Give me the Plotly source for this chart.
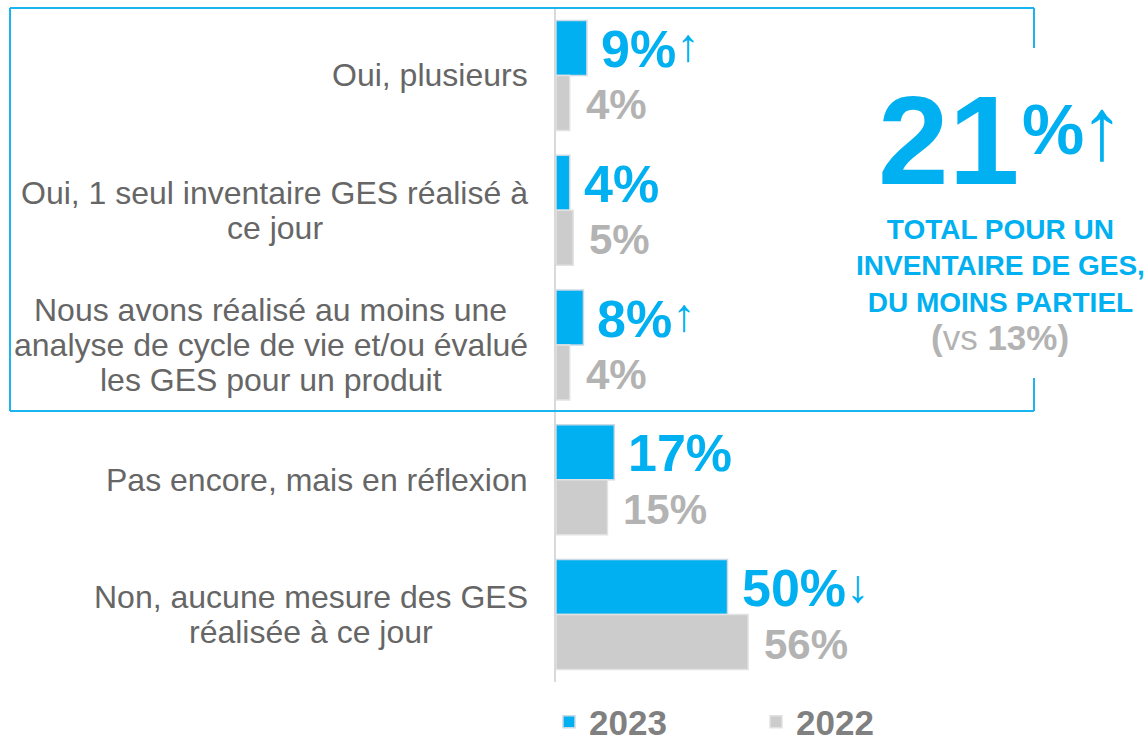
import plotly.graph_objects as go

# ---------------- data ----------------
categories = [
    "Oui, plusieurs",
    "Oui, 1 seul inventaire GES réalisé à<br>ce jour",
    "Nous avons réalisé au moins une<br>analyse de cycle de vie et/ou évalué<br>les GES pour un produit",
    "Pas encore, mais en réflexion",
    "Non, aucune mesure des GES<br>réalisée à ce jour",
]
series_names = ["2023", "2022"]
values_2023 = [9, 4, 8, 17, 50]
values_2022 = [4, 5, 4, 15, 56]
trend_2023 = ["↑", "", "↑", "", "↓"]
total_value = "21"
total_trend = "↑"
total_lines = ["TOTAL POUR UN", "INVENTAIRE DE GES,", "DU MOINS PARTIEL"]
total_previous = "13%"

# ---------------- style ----------------
BLUE = "#00B0F0"
GREY_BAR = "#CCCCCC"
GREY_TXT = "#B3B3B3"
LABEL_TXT = "#666666"
LEGEND_TXT = "#808080"
FONT = "Liberation Sans, Arial, sans-serif"
LABEL_SIZE = 32

WIDTH, HEIGHT = 1146, 741
L, T = 556, 8
PW, PH = 590, 674
R = WIDTH - L - PW
B = HEIGHT - T - PH
XMAX = PW / 3.43

# Arial / Liberation Sans regular advance widths (1/1000 em), used only to
# centre the lines of a wrapped label inside its right-aligned block
_W = {" ": 278, ",": 278, "/": 278, "1": 556,
      "a": 556, "b": 556, "c": 500, "d": 556, "e": 556, "f": 278, "g": 556, "h": 556,
      "i": 222, "j": 222, "k": 500, "l": 222, "m": 833, "n": 556, "o": 556, "p": 556,
      "q": 556, "r": 333, "s": 500, "t": 278, "u": 556, "v": 500, "w": 722, "x": 500,
      "y": 500, "z": 500, "é": 556, "è": 556, "à": 556,
      "A": 667, "B": 667, "C": 722, "D": 722, "E": 667, "F": 611, "G": 778, "H": 722,
      "I": 278, "J": 500, "K": 667, "L": 556, "M": 833, "N": 722, "O": 778, "P": 667,
      "Q": 778, "R": 722, "S": 667, "T": 611, "U": 722, "V": 667, "W": 944, "X": 667,
      "Y": 667, "Z": 611}


def text_width(s, size):
    return sum(_W.get(ch, 556) for ch in s) * size / 1000.0


def px_x(p):
    return (p - L) / PW


def px_y(p):
    return (T + PH - p) / PH


fig = go.Figure()
fig.add_trace(go.Bar(
    name=series_names[0], y=categories, x=values_2023, orientation="h",
    marker=dict(color=BLUE, line=dict(color="#C9D9E6", width=1.5)),
    hoverinfo="x+y",
))
fig.add_trace(go.Bar(
    name=series_names[1], y=categories, x=values_2022, orientation="h",
    marker=dict(color=GREY_BAR, line=dict(color="#E2E2E2", width=1.5)),
    hoverinfo="x+y",
))

annotations = []
LINE_H = 35
LABEL_RIGHT = 528
for cat in categories:
    lines = cat.split("<br>")
    n = len(lines)
    block_w = max(text_width(s, LABEL_SIZE) for s in lines)
    centre = LABEL_RIGHT - block_w / 2
    for j, line in enumerate(lines):
        annotations.append(dict(
            xref="paper", yref="y", x=px_x(centre), y=cat, xanchor="center", yanchor="middle",
            yshift=((n - 1) / 2 - j) * LINE_H, text=line, showarrow=False,
            font=dict(family=FONT, size=LABEL_SIZE, color=LABEL_TXT),
        ))

BAR_OFF = 27.5
for cat, v, tr in zip(categories, values_2023, trend_2023):
    txt = f"<b>{v}%</b>"
    if tr:
        shift = 6 if tr == "↑" else 4
        txt += f"<span style='font-size:46px;baseline-shift:{shift}px'>{tr}</span>"
    annotations.append(dict(
        xref="x", yref="y", x=v, y=cat, xanchor="left", yanchor="middle",
        xshift=12, yshift=BAR_OFF - 1, text=txt, showarrow=False,
        font=dict(family=FONT, size=52, color=BLUE),
    ))
for cat, v in zip(categories, values_2022):
    annotations.append(dict(
        xref="x", yref="y", x=v, y=cat, xanchor="left", yanchor="middle",
        xshift=14, yshift=-BAR_OFF - 2, text=f"<b>{v}%</b>", showarrow=False,
        font=dict(family=FONT, size=42, color=GREY_TXT),
    ))

# big total callout
annotations.append(dict(
    xref="paper", yref="paper", x=px_x(876), y=px_y(140), xanchor="left", yanchor="middle",
    text=f"<b>{total_value}</b>", showarrow=False,
    font=dict(family=FONT, size=127, color=BLUE),
))
annotations.append(dict(
    xref="paper", yref="paper", x=px_x(1020), y=px_y(130), xanchor="left", yanchor="middle",
    text="<b>%</b>", showarrow=False,
    font=dict(family=FONT, size=70, color=BLUE),
))
annotations.append(dict(
    xref="paper", yref="paper", x=px_x(1102), y=px_y(128), xanchor="center", yanchor="middle",
    text=total_trend, showarrow=False,
    font=dict(family=FONT, size=88, color=BLUE),
))
annotations.append(dict(
    xref="paper", yref="paper", x=px_x(1000), y=px_y(266), xanchor="center", yanchor="middle",
    text="<b>" + "<br>".join(total_lines) + "</b>", showarrow=False,
    font=dict(family=FONT, size=28, color=BLUE),
))
annotations.append(dict(
    xref="paper", yref="paper", x=px_x(1000), y=px_y(337), xanchor="center", yanchor="middle",
    text=f"<b>(</b>vs <b>{total_previous})</b>", showarrow=False,
    font=dict(family=FONT, size=35, color=GREY_TXT),
))

# framing box (open on the right where the callout sits)
bx0, bx1, by0, by1 = px_x(10), px_x(1034), px_y(8), px_y(411)
box = dict(type="line", xref="paper", yref="paper", line=dict(color="#1AB4F0", width=2))
shapes = [
    dict(box, x0=bx0, x1=bx1, y0=by0, y1=by0),
    dict(box, x0=bx0, x1=bx1, y0=by1, y1=by1),
    dict(box, x0=bx0, x1=bx0, y0=by0, y1=by1),
    dict(box, x0=bx1, x1=bx1, y0=by0, y1=px_y(48)),
    dict(box, x0=bx1, x1=bx1, y0=px_y(378), y1=by1),
]

fig.update_layout(
    width=WIDTH, height=HEIGHT,
    margin=dict(l=L, r=R, t=T, b=B, pad=0, autoexpand=False),
    paper_bgcolor="white", plot_bgcolor="white",
    barmode="group", bargap=0.184, bargroupgap=0,
    font=dict(family=FONT),
    xaxis=dict(range=[0, XMAX], visible=False, fixedrange=True),
    yaxis=dict(type="category", autorange="reversed", showticklabels=False,
               showgrid=False, zeroline=False, showline=True,
               linecolor="#D9D9D9", linewidth=2, ticks="", fixedrange=True),
    showlegend=True,
    legend=dict(orientation="h", x=px_x(549), xanchor="left", y=px_y(722), yanchor="middle",
                entrywidth=162, entrywidthmode="pixels", traceorder="normal",
                font=dict(family=FONT, size=35, color=LEGEND_TXT, weight="bold"),
                bgcolor="rgba(0,0,0,0)", borderwidth=0, itemclick=False, itemdoubleclick=False),
    annotations=annotations,
    shapes=shapes,
)

fig.write_html("out.html", config={"displayModeBar": False},
               post_script="document.body.style.margin='0';")
